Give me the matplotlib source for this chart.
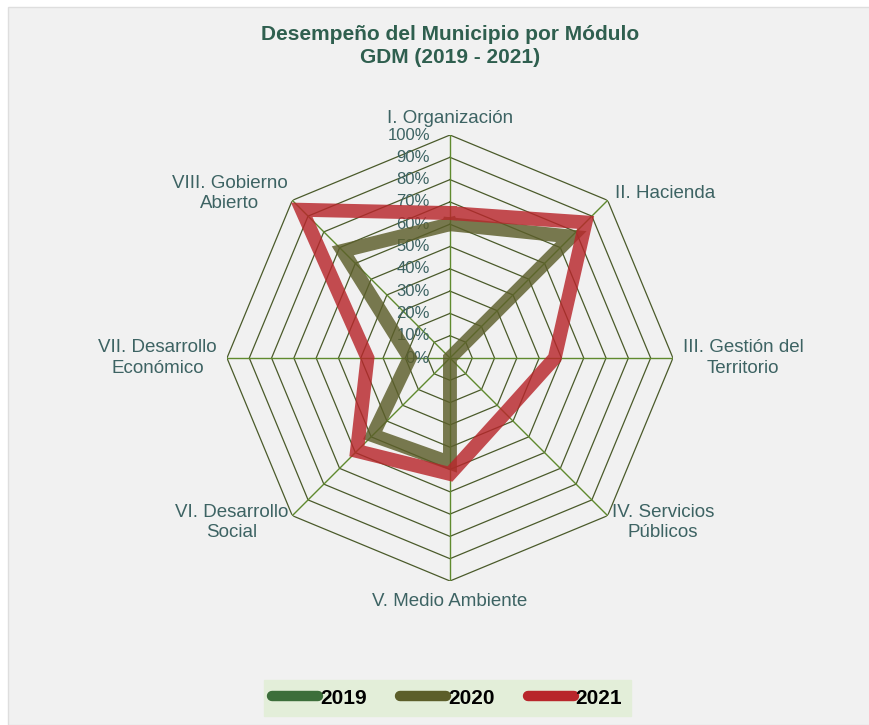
import matplotlib.pyplot as plt
import numpy as np
from matplotlib.patches import Rectangle

plt.rcParams['font.family'] = ['Liberation Sans', 'DejaVu Sans']

modulos = ["I. Organización", "II. Hacienda", "III. Gestión del\nTerritorio",
           "IV. Servicios\nPúblicos", "V. Medio Ambiente", "VI. Desarrollo\nSocial",
           "VII. Desarrollo\nEconómico", "VIII. Gobierno\nAbierto"]
anios = ["2019", "2020", "2021"]
val_2019 = [0, 0, 0, 0, 0, 0, 0, 0]
val_2020 = [60, 77, 0, 0, 47, 49, 18, 68]
val_2021 = [65, 86, 47, 35, 52, 59, 37, 94]
niveles = [0, 10, 20, 30, 40, 50, 60, 70, 80, 90, 100]

colores = {"2019": "#3c6e3a", "2020": "#5c5e2a", "2021": "#b8262b"}
texto = "#3d6363"

fig = plt.figure(figsize=(8.7, 7.25), dpi=100, facecolor='white')
fig.patches.append(Rectangle((8 / 870, 0), 1, 1 - 7 / 725, transform=fig.transFigure,
                             facecolor='#f1f1f1', edgecolor='#dedede', lw=1, zorder=-10))

ax = fig.add_axes([0.2609, 0.1986, 0.5126, 0.6152], projection='polar')
ax.set_theta_offset(np.pi / 2)
ax.set_theta_direction(-1)
ax.set_ylim(0, 100)
ax.patch.set_alpha(0)
ax.spines['polar'].set_visible(False)
ax.grid(False)
ax.set_xticks([])
ax.set_yticks([])

n = len(modulos)
ang = np.linspace(0, 2 * np.pi, n, endpoint=False)
ang_c = np.append(ang, ang[0])

# octagonal rings and spokes
for r in niveles[1:]:
    ax.plot(ang_c, [r] * (n + 1), color='#4a5a2a', lw=0.9, zorder=1)
for a in ang:
    ax.plot([a, a], [0, 100], color='#5f8a2e', lw=1.0, zorder=1)

for r in niveles:
    ax.annotate(f"{r}%", xy=(0, r), xytext=(-20, 0), textcoords='offset pixels',
                ha='right', va='center', fontsize=12, color=texto, zorder=2)

# label placement around each vertex
offs = [(0, 8, 'center', 'bottom'), (7, 7, 'left', 'center'), (10, 0, 'left', 'center'),
        (4, -7, 'left', 'center'), (0, -12, 'center', 'top'), (-4, -7, 'right', 'center'),
        (-10, 0, 'right', 'center'), (-5, 7, 'right', 'center')]
for a, lab, (dx, dy, ha, va) in zip(ang, modulos, offs):
    ax.annotate(lab, xy=(a, 100), xytext=(dx, dy), textcoords='offset pixels',
                ha=ha, va=va, multialignment='center', fontsize=13.5, color=texto,
                linespacing=1.25, annotation_clip=False)

series = {"2019": val_2019, "2020": val_2020, "2021": val_2021}
for anio in anios:
    v = series[anio]
    ax.plot(ang_c, v + v[:1], color=colores[anio], lw=10, alpha=0.82,
            solid_joinstyle='miter', zorder=3, label=anio)

fig.text(0.517, 0.966, "Desempeño del Municipio por Módulo\nGDM (2019 - 2021)",
         ha='center', va='top', fontsize=15, fontweight='bold', color='#2f5f4f',
         linespacing=1.3)

handles = [plt.Line2D([], [], color=colores[a], lw=7.5, solid_capstyle='round') for a in anios]
leg = fig.legend(handles, anios, loc='center', bbox_to_anchor=(0.514, 0.037), ncol=3,
                 frameon=True, fancybox=False, handlelength=2.2, columnspacing=1.6,
                 handletextpad=0.1, borderpad=0.4,
                 prop={'weight': 'bold', 'size': 15})
leg.get_frame().set_facecolor('#e3eed9')
leg.get_frame().set_edgecolor('#e3eed9')
leg.get_frame().set_alpha(1)

plt.savefig("out.png", dpi=100, facecolor=fig.get_facecolor())
